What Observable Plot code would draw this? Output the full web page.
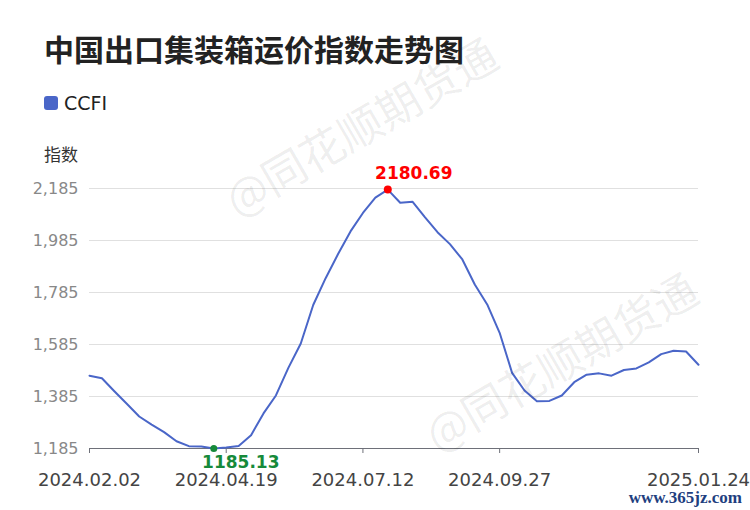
<!DOCTYPE html>
<html>
<head>
<meta charset="utf-8">
<script src="https://cdn.jsdelivr.net/npm/d3@7"></script>
<script src="https://cdn.jsdelivr.net/npm/@observablehq/plot@0.6"></script>
<style>
  html, body { margin: 0; padding: 0; background: #fff; }
  #wrap { position: relative; width: 750px; height: 510px; overflow: hidden; background: #fff; }
  #chart { position: absolute; left: 0; top: 0; }
  .title { position: absolute; left: 44px; top: 30px; font-family: "Noto Sans CJK SC", sans-serif; font-weight: 700; font-size: 30px; line-height: 36px; color: #222; white-space: nowrap; }
  .legend { position: absolute; left: 44px; top: 92px; display: flex; align-items: center; font-family: "DejaVu Sans", sans-serif; font-size: 19px; color: #222; }
  .legend .sw { width: 14px; height: 14px; border-radius: 3px; background: #4a66c8; margin-right: 6px; }
  .ylab { position: absolute; left: 44px; top: 143px; font-family: "Noto Sans CJK SC", sans-serif; font-size: 17px; line-height: 22px; color: #333; }
  .wm { position: absolute; font-family: "Noto Sans CJK SC", sans-serif; font-size: 44px; color: rgba(0,0,0,0.075); white-space: nowrap; transform: translate(-50%, -50%) rotate(-30deg); pointer-events: none; }
  .site { position: absolute; right: 8px; top: 489px; font-family: "Liberation Serif", serif; font-weight: 700; font-size: 17px; line-height: 17px; color: #1f3f80; }
</style>
</head>
<body>
<div id="wrap">
  <div id="chart"></div>
  <div class="title">中国出口集装箱运价指数走势图</div>
  <div class="legend"><span class="sw"></span><span>CCFI</span></div>
  <div class="ylab">指数</div>
  <div class="wm" style="left:360px; top:125px;">@同花顺期货通</div>
  <div class="wm" style="left:560px; top:360px;">@同花顺期货通</div>
  <div class="site">www.365jz.com</div>
</div>
<script>
const dates = [
  "2024.02.02","2024.02.09","2024.02.16","2024.02.23","2024.03.01","2024.03.08","2024.03.15","2024.03.22","2024.03.29","2024.04.03",
  "2024.04.12","2024.04.19","2024.04.26","2024.05.10","2024.05.17","2024.05.24","2024.05.31","2024.06.07","2024.06.14","2024.06.21",
  "2024.06.28","2024.07.05","2024.07.12","2024.07.19","2024.07.26","2024.08.02","2024.08.09","2024.08.16","2024.08.23","2024.08.30",
  "2024.09.06","2024.09.13","2024.09.20","2024.09.27","2024.10.11","2024.10.18","2024.10.25","2024.11.01","2024.11.08","2024.11.15",
  "2024.11.22","2024.11.29","2024.12.06","2024.12.13","2024.12.20","2024.12.27","2025.01.03","2025.01.10","2025.01.17","2025.01.24"
];
const ccfi = [
  1465, 1455, 1405, 1357, 1308, 1277, 1248, 1213, 1194, 1193,
  1185.13, 1189, 1195, 1236, 1320, 1389, 1495, 1589, 1737, 1840,
  1933, 2020, 2091, 2150, 2180.69, 2130, 2134, 2074, 2017, 1971,
  1912, 1816, 1739, 1630, 1476, 1408, 1367, 1368, 1389, 1440,
  1469, 1474, 1465, 1487, 1493, 1516, 1548, 1561, 1558, 1507
];
const yTicks = [1185, 1385, 1585, 1785, 1985, 2185];
const xTickLabels = ["2024.02.02", "2024.04.19", "2024.07.12", "2024.09.27", "2025.01.24"];
const seriesName = "CCFI";

// category positions: each date is one evenly spaced slot
const data = dates.map((d, i) => ({idx: i, date: d, value: ccfi[i]}));
const xTickIdx = xTickLabels.map(l => dates.indexOf(l));
const maxPt = data.reduce((a, b) => (b.value > a.value ? b : a));
const minPt = data.reduce((a, b) => (b.value < a.value ? b : a));

const chart = Plot.plot({
  width: 750,
  height: 510,
  marginTop: 188,
  marginBottom: 62,
  marginLeft: 89,
  marginRight: 52,
  style: {fontFamily: "DejaVu Sans, sans-serif", background: "transparent", overflow: "visible"},
  x: {type: "linear", domain: [0, dates.length - 1]},
  y: {domain: [1185, 2185]},
  marks: [
    Plot.gridY(yTicks, {stroke: "#e0e0e0", strokeOpacity: 1}),
    Plot.axisY(yTicks, {tickSize: 0, tickPadding: 11, tickFormat: d3.format(","), fill: "#888", fontSize: 16, label: null}),
    Plot.ruleY([1185], {stroke: "#6e7079", strokeWidth: 1}),
    Plot.axisX(xTickIdx, {tickSize: 5, tickPadding: 20, tickFormat: i => dates[i], stroke: "#6e7079", fill: "#444", fontSize: 18, label: null}),
    Plot.line(data, {x: "idx", y: "value", stroke: "#4a66c8", strokeWidth: 2}),
    Plot.dot([maxPt], {x: "idx", y: "value", r: 4, fill: "#ff0000"}),
    Plot.text([maxPt], {x: "idx", y: "value", text: d => d.value.toFixed(2), dx: 26, dy: -16, fill: "#ff0000", fontWeight: "bold", fontSize: 17}),
    Plot.dot([minPt], {x: "idx", y: "value", r: 3.5, fill: "#168a3a"}),
    Plot.text([minPt], {x: "idx", y: "value", text: d => d.value.toFixed(2), dx: 27, dy: 14, fill: "#168a3a", fontWeight: "bold", fontSize: 17})
  ]
});
document.getElementById("chart").appendChild(chart);
</script>
</body>
</html>
